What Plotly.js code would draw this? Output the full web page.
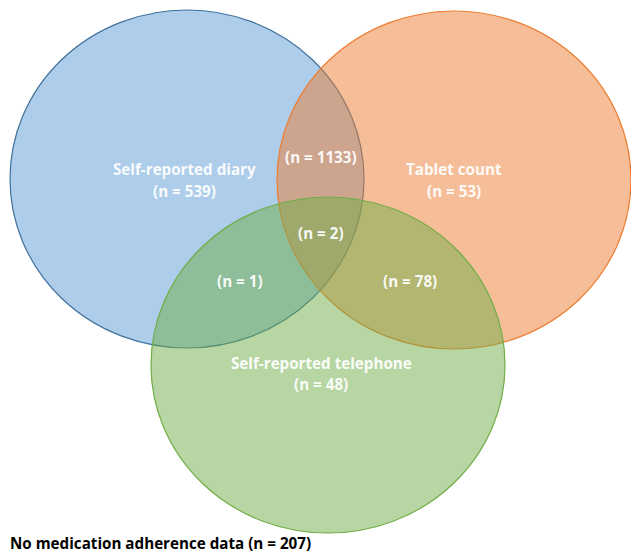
<!DOCTYPE html>
<html>
<head>
<meta charset="utf-8">
<script src="https://cdn.plot.ly/plotly-3.0.1.min.js"></script>
<style>html,body{margin:0;padding:0;background:#fff;}#chart{width:631px;height:555px;}</style>
</head>
<body>
<div id="chart"></div>
<script>
// ---- data ----
var setNames = ["Self-reported diary", "Tablet count", "Self-reported telephone"];
var setOnlyCounts = [539, 53, 48];
var regionNames = ["diary & tablet", "diary & tablet & telephone", "diary & telephone", "tablet & telephone"];
var regionCounts = [1133, 2, 1, 78];
var noneLabel = "No medication adherence data";
var noneCount = 207;

// ---- geometry (layout only) ----
var circles = [
  {cx: 187, cy: 179, rx: 177, ry: 169, fill: "rgba(91,155,213,0.5)", line: "#41719C"},
  {cx: 454, cy: 180, rx: 177, ry: 169, fill: "rgba(237,125,49,0.5)", line: "#ED7D31"},
  {cx: 328, cy: 365, rx: 177, ry: 168, fill: "rgba(112,173,71,0.5)", line: "#70AD47"}
];
var setLabelPos = [[184, 169, 191], [454, 169, 191], [321, 363, 384]];
var regionLabelPos = [[321, 157], [321, 233], [240, 281], [410, 281]];

var shapes = circles.map(function (c) {
  return {type: "circle", xref: "x", yref: "y",
    x0: c.cx - c.rx, x1: c.cx + c.rx, y0: c.cy - c.ry, y1: c.cy + c.ry,
    fillcolor: c.fill, line: {color: c.line, width: 1.2}, layer: "above"};
});

var labFont = {family: "Open Sans, Liberation Sans, sans-serif", size: 15.2, color: "rgba(255,255,255,0.95)", weight: 700};
var annotations = [];
setNames.forEach(function (n, i) {
  var p = setLabelPos[i];
  annotations.push({x: p[0], y: p[1], xref: "x", yref: "y", text: n, showarrow: false, font: labFont});
  annotations.push({x: p[0], y: p[2], xref: "x", yref: "y", text: "(n = " + setOnlyCounts[i] + ")", showarrow: false, font: labFont});
});
regionCounts.forEach(function (v, i) {
  var p = regionLabelPos[i];
  annotations.push({x: p[0], y: p[1], xref: "x", yref: "y", text: "(n = " + v + ")", showarrow: false, font: labFont});
});
annotations.push({x: 8, y: 543, xref: "x", yref: "y", xanchor: "left", text: noneLabel + " (n = " + noneCount + ")",
  showarrow: false, font: {family: "Open Sans, Liberation Sans, sans-serif", size: 15.2, color: "#000", weight: 700}});

var layout = {
  width: 631, height: 555,
  margin: {l: 0, r: 0, t: 0, b: 0},
  paper_bgcolor: "#fff", plot_bgcolor: "#fff",
  xaxis: {range: [0, 631], visible: false, fixedrange: true},
  yaxis: {range: [555, 0], visible: false, fixedrange: true},
  shapes: shapes,
  annotations: annotations,
  showlegend: false
};
Plotly.newPlot("chart", [{x: [], y: [], type: "scatter", hoverinfo: "skip"}], layout, {displayModeBar: false, staticPlot: true});
</script>
</body>
</html>
